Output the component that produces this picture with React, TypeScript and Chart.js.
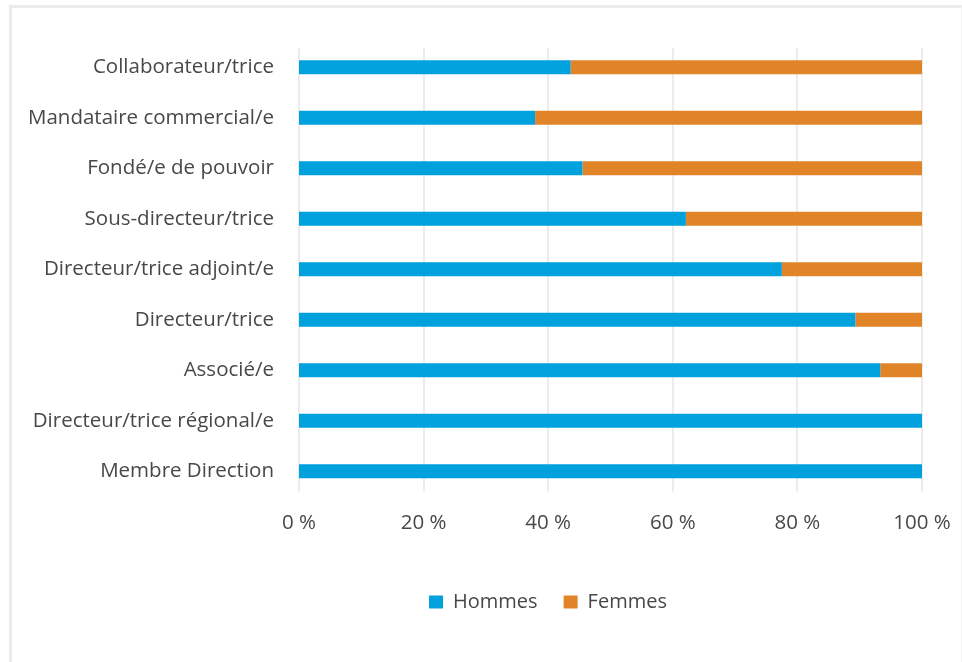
import React, { useEffect, useRef } from "react";
import { Chart, registerables } from "chart.js";

Chart.register(...registerables);

const categories = [
  "Collaborateur/trice",
  "Mandataire commercial/e",
  "Fondé/e de pouvoir",
  "Sous-directeur/trice",
  "Directeur/trice adjoint/e",
  "Directeur/trice",
  "Associé/e",
  "Directeur/trice régional/e",
  "Membre Direction",
];
const hommes = [43.6, 37.9, 45.5, 62.1, 77.5, 89.3, 93.3, 100, 100];
const femmes = [56.4, 62.1, 54.5, 37.9, 22.5, 10.7, 6.7, 0, 0];
const xTicks = [0, 20, 40, 60, 80, 100];

const FONT = "'Open Sans', sans-serif";
const TEXT = "#4a4747";
const GRID = "#ececec";
const FS = 20.5;

const gridPlugin = {
  id: "customGrid",
  afterLayout(chart: any) {
    const lg = chart.legend;
    if (lg) {
      lg.left += 87;
      lg.right += 87;
    }
  },
  beforeDatasetsDraw(chart: any) {
    const { ctx, scales } = chart;
    const x = scales.x;
    const top = chart.chartArea.top + 6;
    const bottom = chart.chartArea.bottom - 5;
    ctx.save();
    ctx.strokeStyle = GRID;
    ctx.lineWidth = 2;
    xTicks.forEach((v) => {
      const px = Math.round(x.getPixelForValue(v));
      ctx.beginPath();
      ctx.moveTo(px, top);
      ctx.lineTo(px, bottom);
      ctx.stroke();
    });
    ctx.restore();
  },
};

export default function App() {
  const ref = useRef<HTMLCanvasElement>(null);
  useEffect(() => {
    if (!ref.current) return;
    const chart = new Chart(ref.current, {
      type: "bar",
      data: {
        labels: categories,
        datasets: [
          {
            label: "Hommes",
            data: hommes,
            backgroundColor: "#00a1dc",
            borderWidth: 0,
            barPercentage: 0.28,
            categoryPercentage: 1,
          },
          {
            label: "Femmes",
            data: femmes,
            backgroundColor: "#e18428",
            borderWidth: 0,
            barPercentage: 0.28,
            categoryPercentage: 1,
          },
        ],
      },
      options: {
        indexAxis: "y",
        animation: false,
        responsive: false,
        maintainAspectRatio: false,
        layout: { padding: { left: 0, right: 40, top: 42, bottom: 40 } },
        scales: {
          x: {
            stacked: true,
            min: 0,
            max: 100,
            grid: { display: false, drawTicks: false },
            border: { display: false },
            afterBuildTicks: (s: any) => {
              s.ticks = xTicks.map((v) => ({ value: v }));
            },
            afterFit: (s: any) => {
              s.height = 69.5;
              s.paddingLeft = 0;
              s.paddingRight = 0;
            },
            ticks: {
              padding: 14.5,
              color: TEXT,
              font: { family: FONT, size: FS },
              callback: (v: any) => v + " %",
            },
          },
          y: {
            stacked: true,
            grid: { display: false, drawTicks: false },
            border: { display: false },
            afterFit: (s: any) => {
              s.width = 299;
              s.paddingTop = 0;
              s.paddingBottom = 0;
            },
            ticks: {
              padding: 25,
              color: TEXT,
              font: { family: FONT, size: FS },
            },
          },
        },
        plugins: {
          legend: {
            position: "bottom",
            labels: {
              boxWidth: 14,
              boxHeight: 13,
              padding: 26,
              color: TEXT,
              font: { family: FONT, size: 20 },
            },
          },
          tooltip: { enabled: false },
        },
      },
      plugins: [gridPlugin],
    });
    return () => chart.destroy();
  }, []);

  return (
    <div
      style={{
        position: "fixed",
        left: 0,
        top: 0,
        width: 962,
        height: 662,
        overflow: "hidden",
        background: "#fff",
      }}
    >
      <div
        style={{
          position: "absolute",
          left: 9,
          top: 5,
          width: 949,
          height: 700,
          borderLeft: "3px solid #ebebeb",
          borderTop: "3px solid #ebebeb",
          borderRight: "1px solid #f3f3f3",
        }}
      />
      <canvas
        ref={ref}
        width={962}
        height={662}
        style={{ position: "absolute", left: 0, top: 0 }}
      />
    </div>
  );
}
